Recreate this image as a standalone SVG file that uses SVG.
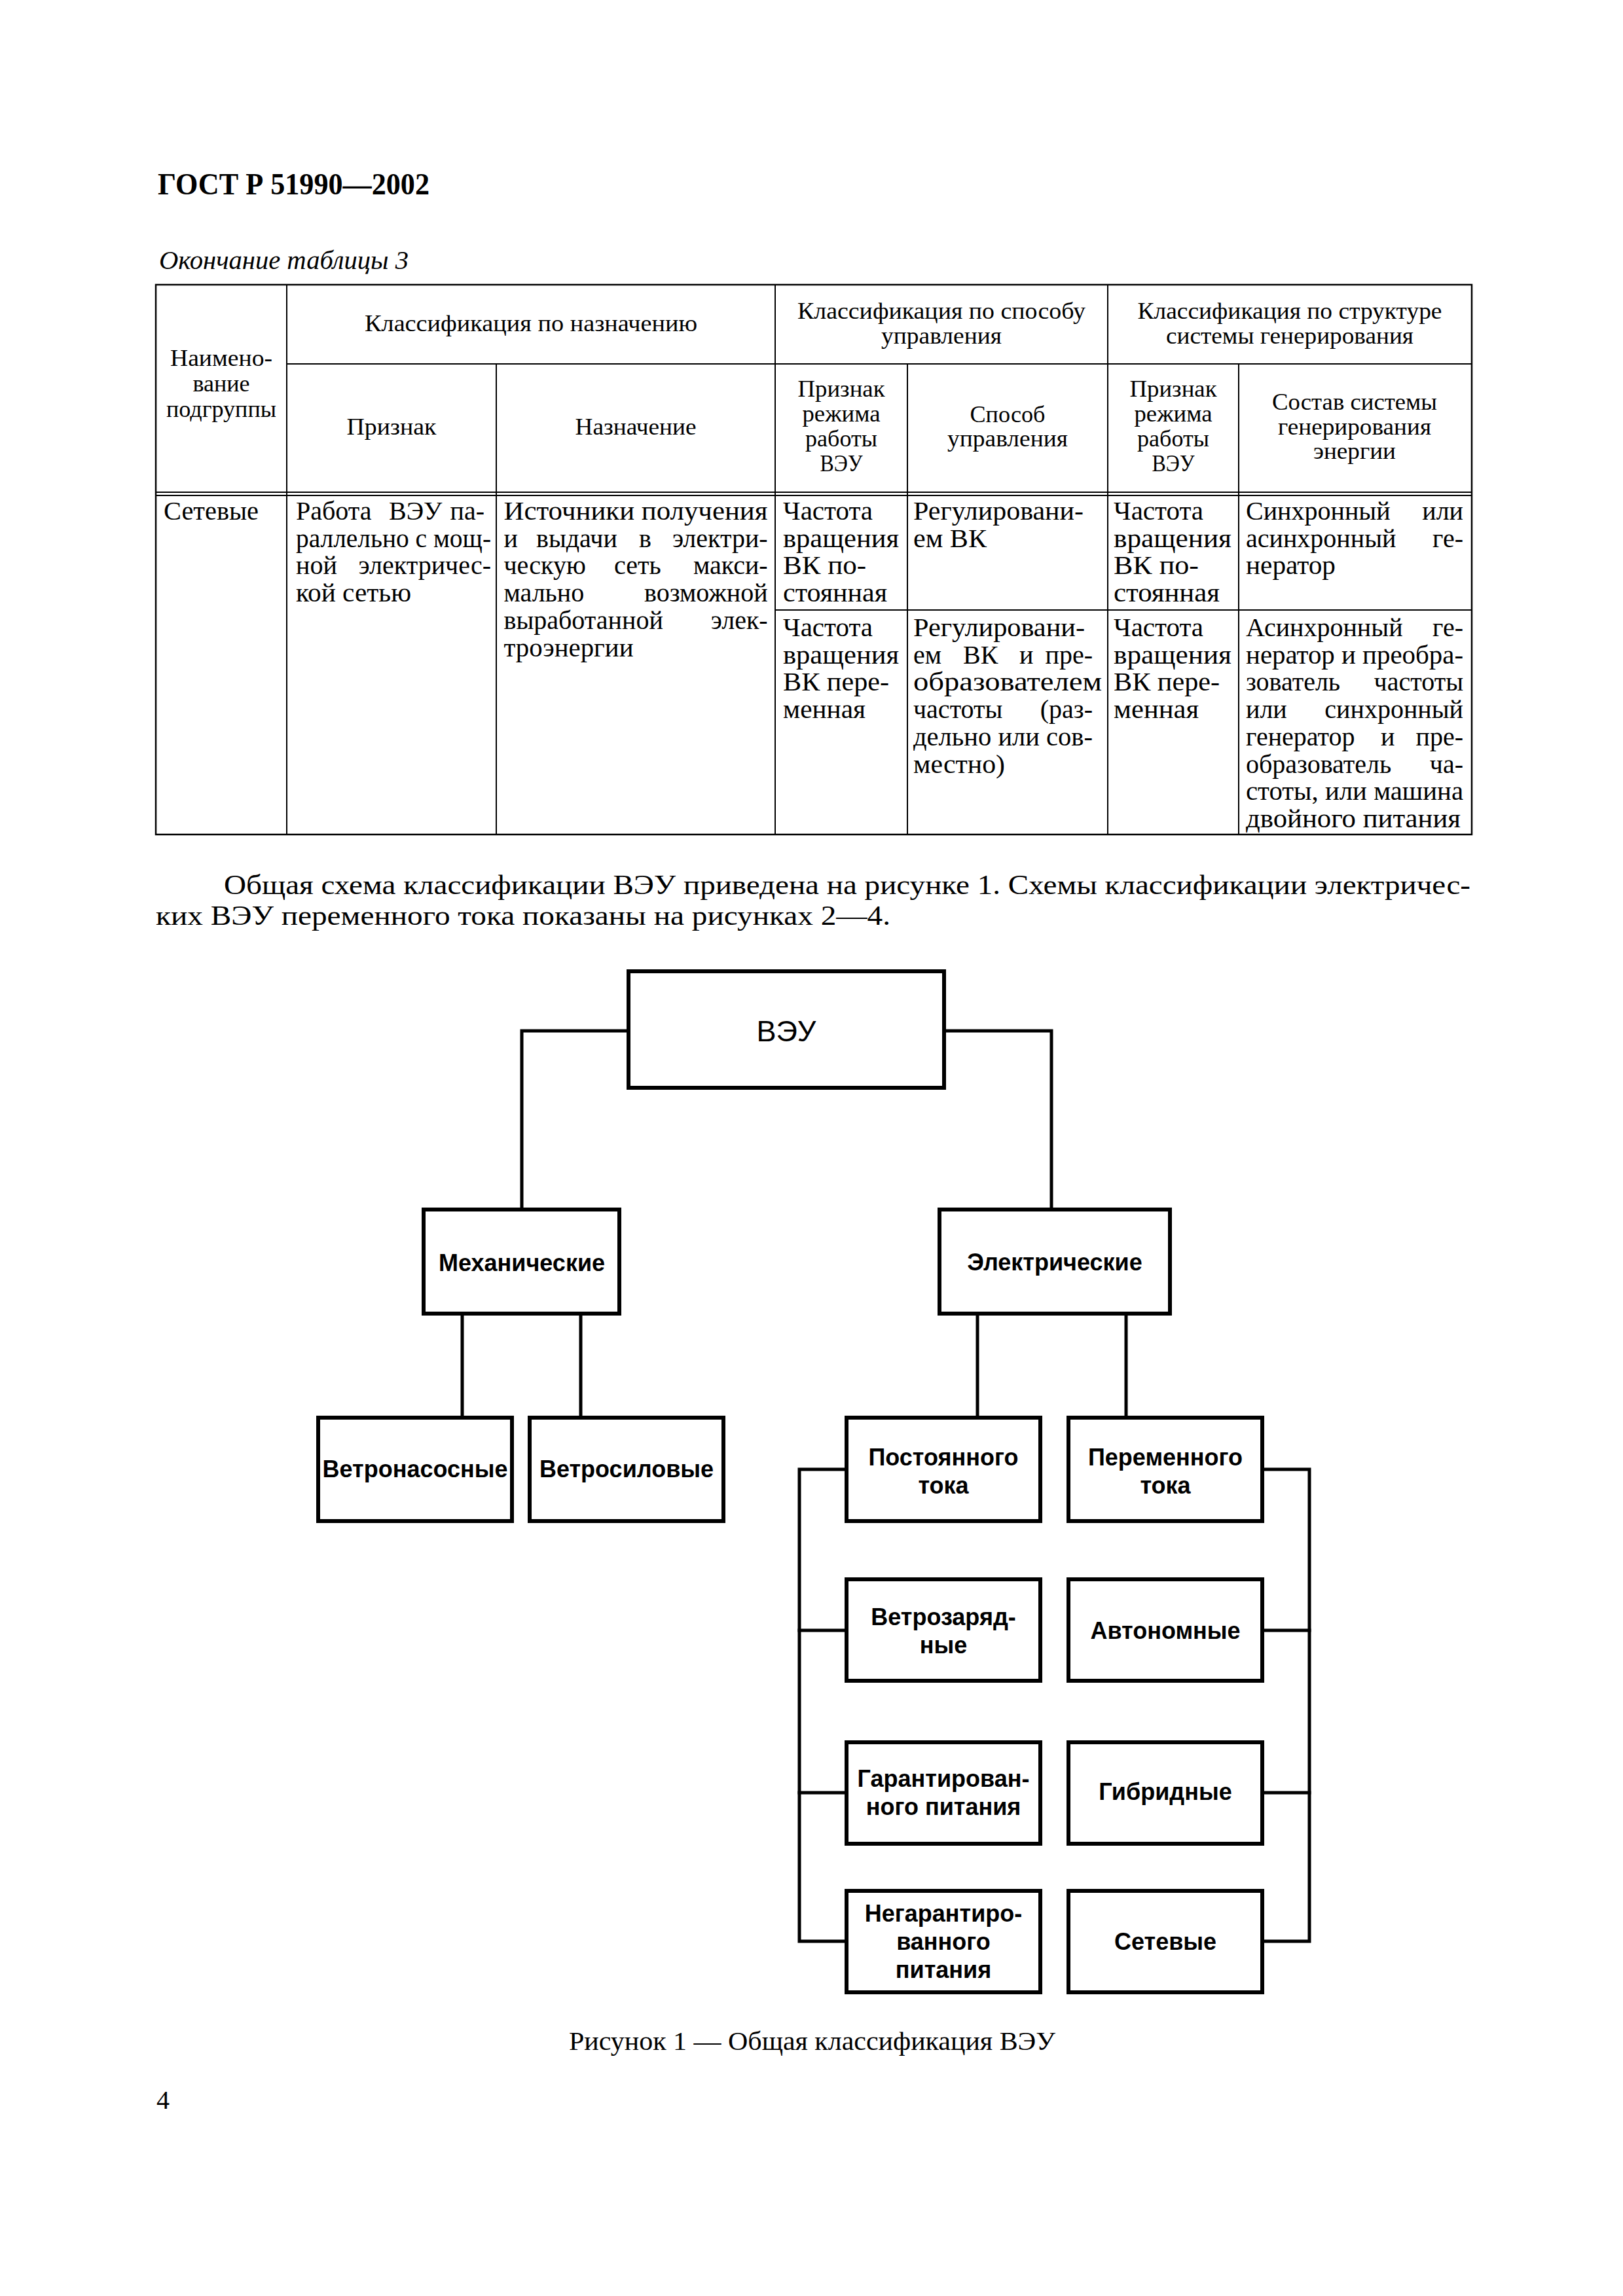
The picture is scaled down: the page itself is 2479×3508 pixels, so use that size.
<svg xmlns="http://www.w3.org/2000/svg" width="2479" height="3508" viewBox="0 0 2479 3508">
<style>
.s{font-family:"Liberation Serif","Times New Roman",serif;fill:#000}
.bd{font-size:40px}
.hd{font-size:36px}
.pg{font-size:42px}
.lab{font-family:"Liberation Sans",Arial,sans-serif;font-size:36px;font-weight:bold;text-anchor:middle;fill:#000}
.lab0{font-family:"Liberation Sans",Arial,sans-serif;font-size:45px;text-anchor:middle;fill:#000}
.e{text-anchor:end}
.box{fill:#fff;stroke:#000;stroke-width:6}
.con{fill:none;stroke:#000;stroke-width:5;stroke-linecap:square;stroke-linejoin:miter}
.tb{fill:none;stroke:#000;stroke-width:2.5}
.tl{stroke:#000;stroke-width:2}
.dl{stroke:#000;stroke-width:2}
</style>
<rect width="2479" height="3508" fill="#fff"/>

<text class="s" x="241" y="297" font-size="47" font-weight="bold" textLength="415" lengthAdjust="spacingAndGlyphs">ГОСТ Р 51990—2002</text>
<text class="s" x="243" y="411" font-size="40" font-style="italic" textLength="381" lengthAdjust="spacingAndGlyphs">Окончание таблицы 3</text>

<g id="table">
<rect class="tb" x="238" y="435" width="2010" height="840"/>
<line class="tl" x1="438" y1="435" x2="438" y2="1275"/>
<line class="tl" x1="758" y1="556" x2="758" y2="1275"/>
<line class="tl" x1="1184" y1="435" x2="1184" y2="1275"/>
<line class="tl" x1="1386" y1="556" x2="1386" y2="1275"/>
<line class="tl" x1="1692" y1="435" x2="1692" y2="1275"/>
<line class="tl" x1="1892" y1="556" x2="1892" y2="1275"/>
<line class="tl" x1="438" y1="556" x2="2248" y2="556"/>
<line class="dl" x1="238" y1="752" x2="2248" y2="752"/>
<line class="dl" x1="238" y1="757" x2="2248" y2="757"/>
<line class="tl" x1="1184" y1="932" x2="2248" y2="932"/>

<g class="s hd">
<text x="260" y="559" textLength="156" lengthAdjust="spacingAndGlyphs">Наимено-</text>
<text x="294.5" y="598" textLength="87" lengthAdjust="spacingAndGlyphs">вание</text>
<text x="254" y="637" textLength="168" lengthAdjust="spacingAndGlyphs">подгруппы</text>
<text x="557" y="506" textLength="508" lengthAdjust="spacingAndGlyphs">Классификация по назначению</text>
<text x="529.5" y="664" textLength="137" lengthAdjust="spacingAndGlyphs">Признак</text>
<text x="878.5" y="664" textLength="185" lengthAdjust="spacingAndGlyphs">Назначение</text>
<text x="1218" y="487" textLength="440" lengthAdjust="spacingAndGlyphs">Классификация по способу</text>
<text x="1346" y="525" textLength="184" lengthAdjust="spacingAndGlyphs">управления</text>
<text x="1737.5" y="487" textLength="465" lengthAdjust="spacingAndGlyphs">Классификация по структуре</text>
<text x="1781" y="525" textLength="378" lengthAdjust="spacingAndGlyphs">системы генерирования</text>
<text x="1218.5" y="606" textLength="133" lengthAdjust="spacingAndGlyphs">Признак</text>
<text x="1225.5" y="644" textLength="119" lengthAdjust="spacingAndGlyphs">режима</text>
<text x="1230" y="682" textLength="110" lengthAdjust="spacingAndGlyphs">работы</text>
<text x="1252.5" y="720" textLength="65" lengthAdjust="spacingAndGlyphs">ВЭУ</text>
<text x="1481.5" y="645" textLength="115" lengthAdjust="spacingAndGlyphs">Способ</text>
<text x="1447" y="682" textLength="184" lengthAdjust="spacingAndGlyphs">управления</text>
<text x="1725.5" y="606" textLength="133" lengthAdjust="spacingAndGlyphs">Признак</text>
<text x="1732.5" y="644" textLength="119" lengthAdjust="spacingAndGlyphs">режима</text>
<text x="1737" y="682" textLength="110" lengthAdjust="spacingAndGlyphs">работы</text>
<text x="1759.5" y="720" textLength="65" lengthAdjust="spacingAndGlyphs">ВЭУ</text>
<text x="1943" y="626" textLength="252" lengthAdjust="spacingAndGlyphs">Состав системы</text>
<text x="1952" y="664" textLength="234" lengthAdjust="spacingAndGlyphs">генерирования</text>
<text x="2006" y="701" textLength="126" lengthAdjust="spacingAndGlyphs">энергии</text>
</g>

<g class="s bd">
<text x="250" y="794" textLength="145" lengthAdjust="spacingAndGlyphs">Сетевые</text>

<text x="452" y="794">Работа</text>
<text x="594" y="794">ВЭУ</text>
<text class="e" x="740" y="794">па-</text>
<text x="452" y="835.7" textLength="298" lengthAdjust="spacingAndGlyphs">раллельно с мощ-</text>
<text x="452" y="877.4">ной</text>
<text class="e" x="750" y="877.4">электричес-</text>
<text x="452" y="919.1" textLength="176" lengthAdjust="spacingAndGlyphs">кой сетью</text>

<text x="769.5" y="794" textLength="403" lengthAdjust="spacingAndGlyphs">Источники получения</text>
<text x="769.5" y="835.7">и</text>
<text x="819" y="835.7">выдачи</text>
<text x="976" y="835.7">в</text>
<text class="e" x="1172.7" y="835.7">электри-</text>
<text x="769.5" y="877.4">ческую</text>
<text x="938" y="877.4">сеть</text>
<text class="e" x="1172.7" y="877.4">макси-</text>
<text x="769.5" y="919.1">мально</text>
<text class="e" x="1172.7" y="919.1">возможной</text>
<text x="769.5" y="960.8">выработанной</text>
<text class="e" x="1172.7" y="960.8">элек-</text>
<text x="769.5" y="1002.5" textLength="198" lengthAdjust="spacingAndGlyphs">троэнергии</text>

<text x="1196" y="794" textLength="137" lengthAdjust="spacingAndGlyphs">Частота</text>
<text x="1196" y="835.7" textLength="177" lengthAdjust="spacingAndGlyphs">вращения</text>
<text x="1196" y="877.4" textLength="127" lengthAdjust="spacingAndGlyphs">ВК по-</text>
<text x="1196" y="919.1" textLength="159" lengthAdjust="spacingAndGlyphs">стоянная</text>
<text x="1196" y="972" textLength="137" lengthAdjust="spacingAndGlyphs">Частота</text>
<text x="1196" y="1013.7" textLength="177" lengthAdjust="spacingAndGlyphs">вращения</text>
<text x="1196" y="1055.4" textLength="162" lengthAdjust="spacingAndGlyphs">ВК пере-</text>
<text x="1196" y="1097.1" textLength="126" lengthAdjust="spacingAndGlyphs">менная</text>

<text x="1395" y="794" textLength="260" lengthAdjust="spacingAndGlyphs">Регулировани-</text>
<text x="1395" y="835.7" textLength="112" lengthAdjust="spacingAndGlyphs">ем ВК</text>
<text x="1395" y="972" textLength="262" lengthAdjust="spacingAndGlyphs">Регулировани-</text>
<text x="1395" y="1013.7">ем</text>
<text x="1471" y="1013.7">ВК</text>
<text x="1557" y="1013.7">и</text>
<text class="e" x="1669" y="1013.7">пре-</text>
<text x="1395" y="1055.4" textLength="288" lengthAdjust="spacingAndGlyphs">образователем</text>
<text x="1395" y="1097.1">частоты</text>
<text class="e" x="1669" y="1097.1">(раз-</text>
<text x="1395" y="1138.8" textLength="274" lengthAdjust="spacingAndGlyphs">дельно или сов-</text>
<text x="1395" y="1180.5" textLength="140" lengthAdjust="spacingAndGlyphs">местно)</text>

<text x="1701" y="794" textLength="137" lengthAdjust="spacingAndGlyphs">Частота</text>
<text x="1701" y="835.7" textLength="180" lengthAdjust="spacingAndGlyphs">вращения</text>
<text x="1701" y="877.4" textLength="130" lengthAdjust="spacingAndGlyphs">ВК по-</text>
<text x="1701" y="919.1" textLength="162" lengthAdjust="spacingAndGlyphs">стоянная</text>
<text x="1701" y="972" textLength="137" lengthAdjust="spacingAndGlyphs">Частота</text>
<text x="1701" y="1013.7" textLength="180" lengthAdjust="spacingAndGlyphs">вращения</text>
<text x="1701" y="1055.4" textLength="162" lengthAdjust="spacingAndGlyphs">ВК пере-</text>
<text x="1701" y="1097.1" textLength="130" lengthAdjust="spacingAndGlyphs">менная</text>

<text x="1903" y="794">Синхронный</text>
<text class="e" x="2235" y="794">или</text>
<text x="1903" y="835.7">асинхронный</text>
<text class="e" x="2235" y="835.7">ге-</text>
<text x="1903" y="877.4" textLength="137" lengthAdjust="spacingAndGlyphs">нератор</text>
<text x="1903" y="972">Асинхронный</text>
<text class="e" x="2235" y="972">ге-</text>
<text x="1903" y="1013.7" textLength="332" lengthAdjust="spacingAndGlyphs">нератор и преобра-</text>
<text x="1903" y="1055.4">зователь</text>
<text class="e" x="2235" y="1055.4">частоты</text>
<text x="1903" y="1097.1">или</text>
<text class="e" x="2235" y="1097.1">синхронный</text>
<text x="1903" y="1138.8">генератор</text>
<text x="2109" y="1138.8">и</text>
<text class="e" x="2235" y="1138.8">пре-</text>
<text x="1903" y="1180.5">образователь</text>
<text class="e" x="2235" y="1180.5">ча-</text>
<text x="1903" y="1222.2" textLength="332" lengthAdjust="spacingAndGlyphs">стоты, или машина</text>
<text x="1903" y="1263.9" textLength="328" lengthAdjust="spacingAndGlyphs">двойного питания</text>
</g>
</g>

<text class="s pg" x="342" y="1366" textLength="1904" lengthAdjust="spacingAndGlyphs">Общая схема классификации ВЭУ приведена на рисунке 1. Схемы классификации электричес-</text>
<text class="s pg" x="238" y="1413" textLength="1122" lengthAdjust="spacingAndGlyphs">ких ВЭУ переменного тока показаны на рисунках 2—4.</text>

<g id="connectors">
<path class="con" d="M957,1575 H797 V1845"/>
<path class="con" d="M1445,1575 H1606 V1845"/>
<path class="con" d="M706,2010 V2163"/>
<path class="con" d="M887,2010 V2163"/>
<path class="con" d="M1493,2010 V2163"/>
<path class="con" d="M1720,2010 V2163"/>
<path class="con" d="M1290,2245 H1221 V2966 H1290"/>
<path class="con" d="M1221,2491 H1290"/>
<path class="con" d="M1221,2739 H1290"/>
<path class="con" d="M1931,2245 H2000 V2966 H1931"/>
<path class="con" d="M2000,2491 H1931"/>
<path class="con" d="M2000,2739 H1931"/>
</g>

<g id="n-veu"><rect class="box" x="960" y="1484" width="482" height="178"/><text class="lab0" x="1201" y="1591">ВЭУ</text></g>
<g id="n-mech"><rect class="box" x="647" y="1848" width="299" height="159"/><text class="lab" x="797" y="1942">Механические</text></g>
<g id="n-elec"><rect class="box" x="1435" y="1848" width="352" height="159"/><text class="lab" x="1611" y="1941">Электрические</text></g>
<g id="n-pump"><rect class="box" x="486" y="2166" width="296" height="158"/><text class="lab" x="634" y="2257">Ветронасосные</text></g>
<g id="n-power"><rect class="box" x="809" y="2166" width="296" height="158"/><text class="lab" x="957" y="2257">Ветросиловые</text></g>
<g id="n-dc"><rect class="box" x="1293" y="2166" width="296" height="158"/><text class="lab" x="1441" y="2239">Постоянного</text><text class="lab" x="1441" y="2282">тока</text></g>
<g id="n-ac"><rect class="box" x="1632" y="2166" width="296" height="158"/><text class="lab" x="1780" y="2239">Переменного</text><text class="lab" x="1780" y="2282">тока</text></g>
<g id="n-charge"><rect class="box" x="1293" y="2413" width="296" height="155"/><text class="lab" x="1441" y="2483">Ветрозаряд-</text><text class="lab" x="1441" y="2526">ные</text></g>
<g id="n-auto"><rect class="box" x="1632" y="2413" width="296" height="155"/><text class="lab" x="1780" y="2504">Автономные</text></g>
<g id="n-guar"><rect class="box" x="1293" y="2662" width="296" height="155"/><text class="lab" x="1441" y="2730">Гарантирован-</text><text class="lab" x="1441" y="2773">ного питания</text></g>
<g id="n-hybrid"><rect class="box" x="1632" y="2662" width="296" height="155"/><text class="lab" x="1780" y="2750">Гибридные</text></g>
<g id="n-nonguar"><rect class="box" x="1293" y="2889" width="296" height="155"/><text class="lab" x="1441" y="2936">Негарантиро-</text><text class="lab" x="1441" y="2979">ванного</text><text class="lab" x="1441" y="3022">питания</text></g>
<g id="n-grid"><rect class="box" x="1632" y="2889" width="296" height="155"/><text class="lab" x="1780" y="2979">Сетевые</text></g>

<text class="s" x="869" y="3132" font-size="40" textLength="743" lengthAdjust="spacingAndGlyphs">Рисунок 1 — Общая классификация ВЭУ</text>
<text class="s" x="239" y="3222" font-size="40">4</text>
</svg>
